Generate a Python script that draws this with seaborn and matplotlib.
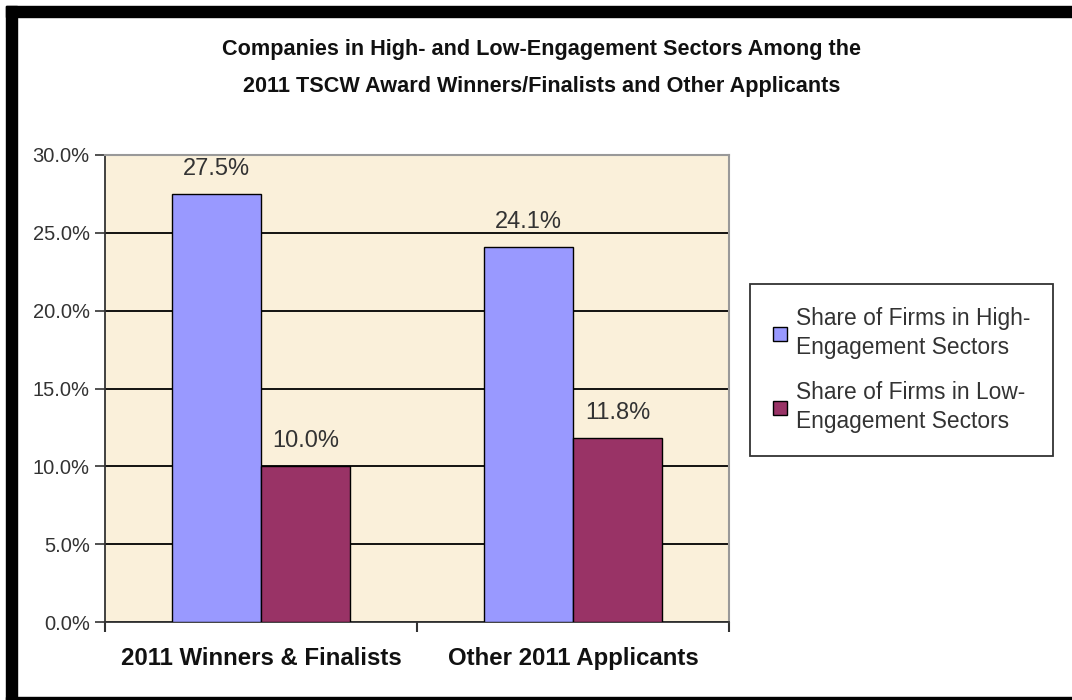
import matplotlib
matplotlib.use("Agg")
import matplotlib.pyplot as plt
import seaborn as sns
import pandas as pd
from matplotlib.patches import Rectangle, Patch
from matplotlib.ticker import FixedLocator, PercentFormatter

categories = ["2011 Winners & Finalists", "Other 2011 Applicants"]
series_names = ["Share of Firms in High-\nEngagement Sectors",
                "Share of Firms in Low-\nEngagement Sectors"]
high_values = [27.5, 24.1]
low_values = [10.0, 11.8]
y_ticks = [0, 5, 10, 15, 20, 25, 30]
title_text = ("Companies in High- and Low-Engagement Sectors Among the\n"
              "2011 TSCW Award Winners/Finalists and Other Applicants")

colors = ["#9999FF", "#993366"]

df = pd.DataFrame({
    "category": categories * 2,
    "series": [series_names[0]] * 2 + [series_names[1]] * 2,
    "value": high_values + low_values,
})

sns.set_theme(style="white")
plt.rcParams["font.family"] = ["Liberation Sans", "DejaVu Sans"]

fig = plt.figure(figsize=(10.72, 7.0), dpi=100)
fig.patch.set_facecolor("white")
ax = fig.add_axes([105 / 1072, 1 - 622 / 700, (729 - 105) / 1072, (622 - 155) / 700])
ax.set_facecolor("#FAF0DA")

sns.barplot(data=df, x="category", y="value", hue="series", order=categories,
            hue_order=series_names, palette=colors, width=0.57, dodge=True,
            edgecolor="black", linewidth=1.0, saturation=1.0, ax=ax, legend=False,
            zorder=3)

ax.set_xlim(-0.5, 1.5)
ax.set_ylim(0, 30)
ax.yaxis.set_major_locator(FixedLocator(y_ticks))
ax.yaxis.set_major_formatter(PercentFormatter(decimals=1))
ax.grid(axis="y", color="black", linewidth=1.3, zorder=1)
ax.set_axisbelow(True)
ax.set_xlabel("")
ax.set_ylabel("")

for c in ax.containers:
    ax.bar_label(c, labels=[f"{v:.1f}%" for v in c.datavalues], padding=10,
                 fontsize=17, color="#333333")

ax.tick_params(axis="y", which="major", direction="out", length=7, width=1.2,
               color="#333333", labelsize=14.5, labelcolor="#333333", pad=4, left=True)
ax.tick_params(axis="x", which="major", length=0, labelsize=17.3, pad=18)
for lbl in ax.get_xticklabels():
    lbl.set_fontweight("bold")
    lbl.set_color("#111111")
ax.xaxis.set_minor_locator(FixedLocator([-0.5, 0.5, 1.5]))
ax.tick_params(axis="x", which="minor", direction="out", length=7, width=1.5,
               color="#333333", bottom=True)

for side in ["left", "bottom"]:
    ax.spines[side].set_color("#333333")
    ax.spines[side].set_linewidth(1.3)
for side in ["top", "right"]:
    ax.spines[side].set_color("#999999")
    ax.spines[side].set_linewidth(1.5)

fig.text(542 / 1072, 1 - 68 / 700, title_text, ha="center", va="center",
         fontsize=15.6, fontweight="bold", linespacing=1.95,
         color="#111111")

handles = [Patch(facecolor=colors[i], edgecolor="black", linewidth=1.0,
                 label=series_names[i]) for i in range(2)]
leg = fig.legend(handles=handles, loc="center left",
                 bbox_to_anchor=(750 / 1072, 1 - 370 / 700),
                 frameon=True, fancybox=False, fontsize=16.4,
                 handlelength=0.62, handleheight=0.62, handletextpad=0.4,
                 labelspacing=1.0, borderpad=1.0, borderaxespad=0)
leg.get_frame().set_edgecolor("black")
leg.get_frame().set_linewidth(1.3)
for t in leg.get_texts():
    t.set_color("#333333")
    t.set_linespacing(1.3)

# black frame (top, left, bottom)
fig.patches.append(Rectangle((6 / 1072, 1 - 17 / 700), 1 - 6 / 1072, 11 / 700,
                             transform=fig.transFigure, color="black", zorder=10))
fig.patches.append(Rectangle((6 / 1072, 0), 11 / 1072, 1 - 6 / 700,
                             transform=fig.transFigure, color="black", zorder=10))
fig.patches.append(Rectangle((6 / 1072, 0), 1 - 6 / 1072, 3 / 700,
                             transform=fig.transFigure, color="black", zorder=10))

fig.savefig("out.png", dpi=100, facecolor="white")
